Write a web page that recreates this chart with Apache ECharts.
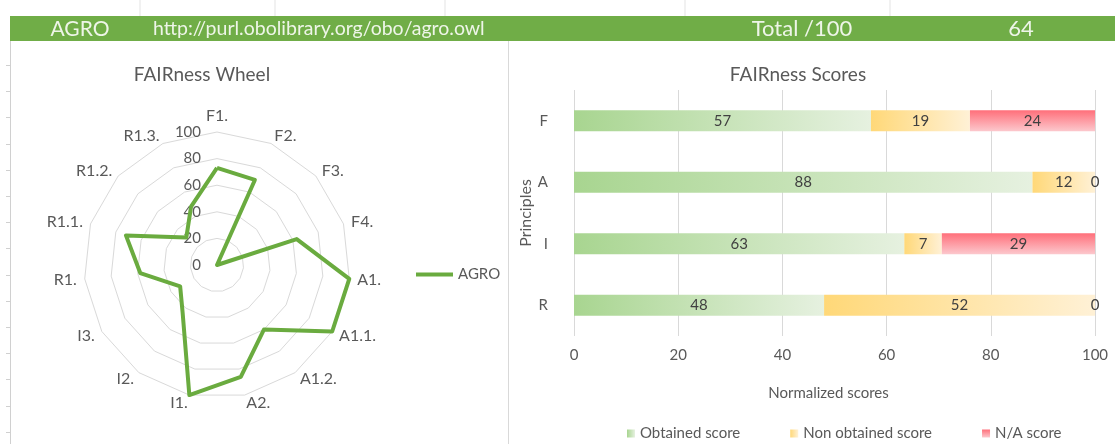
<!DOCTYPE html>
<html>
<head>
<meta charset="utf-8">
<script src="https://cdn.jsdelivr.net/npm/echarts@6/dist/echarts.min.js"></script>
<style>
  html, body { margin: 0; padding: 0; background: #fff; }
  #main { width: 1115px; height: 444px; }
</style>
</head>
<body>
<div id="main"></div>
<script>
// radar (FAIRness Wheel) – listed clockwise from the top, as in the sheet
var wheelNames = ['F1.', 'F2.', 'F3.', 'F4.', 'A1.', 'A1.1.', 'A1.2.', 'A2.', 'I1.', 'I2.', 'I3.', 'R1.', 'R1.1.', 'R1.2.', 'R1.3.'];
var wheelValues = [73, 70, 0, 63, 100, 100, 60, 86, 100, 44, 32, 58, 72, 31, 48];
var wheelTicks = [0, 20, 40, 60, 80, 100];

// bars (FAIRness Scores)
var principles = ['F', 'A', 'I', 'R'];
var obtained = [57, 88, 63.4, 48];
var nonObtained = [19, 12, 7.2, 52];
var naScore = [24, 0, 29.4, 0];

var headerName = 'AGRO';
var headerUrl = 'http://purl.obolibrary.org/obo/agro.owl';
var headerTotal = 64;

var FONT = 'Lato';
var GREY = '#595959';

// echarts radar runs counter-clockwise, so keep the first axis and flip the rest
function ccw(arr) {
  return [arr[0]].concat(arr.slice(1).reverse());
}

var chart = echarts.init(document.getElementById('main'), null, { renderer: 'canvas' });

function grad(x2, y2, c0, c1) {
  return new echarts.graphic.LinearGradient(0, 0, x2, y2, [
    { offset: 0, color: c0 },
    { offset: 1, color: c1 }
  ]);
}

var barLabel = {
  show: true,
  position: 'inside',
  color: '#404040',
  fontSize: 15,
  fontFamily: FONT,
  formatter: function (p) { return Math.round(p.value); }
};

// excel cell lines peeking out round the charts
var deco = [];
[140, 275, 445, 685, 890].forEach(function (x) {
  deco.push({ type: 'line', shape: { x1: x, y1: 0, x2: x, y2: 16 }, style: { stroke: '#e3e3e3', lineWidth: 1 } });
});
deco.push({ type: 'line', shape: { x1: 10.5, y1: 41, x2: 10.5, y2: 444 }, style: { stroke: '#d0d0d0', lineWidth: 1 } });
for (var y = 65; y < 444; y += 26.2) {
  deco.push({ type: 'line', shape: { x1: 6, y1: Math.round(y) + 0.5, x2: 10, y2: Math.round(y) + 0.5 }, style: { stroke: '#d0d0d0', lineWidth: 1 } });
}
deco.push({ type: 'line', shape: { x1: 508.5, y1: 41, x2: 508.5, y2: 444 }, style: { stroke: '#d9d9d9', lineWidth: 1 } });
// header band
deco.push({ type: 'rect', shape: { x: 10, y: 16, width: 1105, height: 25 }, style: { fill: '#70ad47' } });
deco.push({ type: 'text', x: 80, y: 29, style: { text: headerName, fill: '#eef5e8', font: '21px ' + FONT, textAlign: 'center', textVerticalAlign: 'middle' } });
deco.push({ type: 'text', x: 153, y: 29, style: { text: headerUrl, fill: '#eef5e8', font: '19.5px ' + FONT, textAlign: 'left', textVerticalAlign: 'middle' } });
deco.push({ type: 'text', x: 802, y: 29, style: { text: 'Total /100', fill: '#eef5e8', font: '22px ' + FONT, textAlign: 'center', textVerticalAlign: 'middle' } });
deco.push({ type: 'text', x: 1021, y: 29, style: { text: String(headerTotal), fill: '#eef5e8', font: '22px ' + FONT, textAlign: 'center', textVerticalAlign: 'middle' } });

var option = {
  backgroundColor: '#fff',
  animation: false,
  textStyle: { fontFamily: FONT },
  title: [
    { text: 'FAIRness Wheel', left: 197, top: 60, textAlign: 'center',
      textStyle: { color: GREY, fontSize: 19, fontWeight: 'normal', fontFamily: FONT } },
    { text: 'FAIRness Scores', left: 793, top: 60, textAlign: 'center',
      textStyle: { color: GREY, fontSize: 19, fontWeight: 'normal', fontFamily: FONT } }
  ],
  legend: [
    {
      data: [headerName],
      left: 411, top: 262,
      icon: 'rect',
      itemWidth: 37, itemHeight: 4,
      textStyle: { color: GREY, fontSize: 15, fontFamily: FONT }
    },
    {
      data: ['Obtained score', 'Non obtained score', 'N/A score'],
      left: 622, top: 421,
      icon: 'rect',
      itemWidth: 8, itemHeight: 8, itemGap: 50,
      textStyle: { color: GREY, fontSize: 15, fontFamily: FONT }
    }
  ],
  radar: {
    center: [217, 265],
    radius: 133,
    startAngle: 90,
    shape: 'polygon',
    splitNumber: 5,
    nameGap: 8,
    indicator: ccw(wheelNames).map(function (n) { return { name: n, min: 0, max: 100 }; }),
    axisName: { color: GREY, fontSize: 16, fontFamily: FONT },
    splitLine: { lineStyle: { color: '#d9d9d9', width: 1 } },
    splitArea: { show: false },
    axisLine: { show: false },
    axisTick: { show: false },
    axisLabel: { show: false }
  },
  grid: [
    { left: 574, right: 20, top: 90, bottom: 108 },
    // thin strip on the wheel's vertical spoke, just for the 0..100 labels
    { left: 209, top: 132, width: 8, height: 133 }
  ],
  xAxis: [
    {
      type: 'value', gridIndex: 0, min: 0, max: 100, interval: 20,
      axisLine: { show: false }, axisTick: { show: false },
      splitLine: { lineStyle: { color: '#d9d9d9' } },
      axisLabel: { color: GREY, fontSize: 15, margin: 12, fontFamily: FONT },
      name: 'Normalized scores', nameLocation: 'middle', nameGap: 50,
      nameTextStyle: { color: GREY, fontSize: 15, fontFamily: FONT, padding: [0, 12, 0, 0] }
    },
    { type: 'value', gridIndex: 1, show: false }
  ],
  yAxis: [
    {
      type: 'category', gridIndex: 0, data: principles, inverse: true,
      axisLine: { show: false }, axisTick: { show: false },
      axisLabel: { color: GREY, fontSize: 15, margin: 26, fontFamily: FONT },
      name: 'Principles', nameLocation: 'middle', nameGap: 40, nameRotate: 90,
      nameTextStyle: { color: GREY, fontSize: 16, fontFamily: FONT }
    },
    {
      type: 'value', gridIndex: 1, min: 0, max: 100, interval: 20,
      data: wheelTicks,
      axisLine: { show: false }, axisTick: { show: false }, splitLine: { show: false },
      axisLabel: { color: GREY, fontSize: 15, margin: 8, fontFamily: FONT }
    }
  ],
  series: [
    {
      name: headerName,
      type: 'radar',
      symbol: 'none',
      lineStyle: { color: '#6aab3f', width: 4 },
      itemStyle: { color: '#6aab3f' },
      data: [{ name: headerName, value: ccw(wheelValues) }]
    },
    {
      name: 'Obtained score', type: 'bar', stack: 'score', barWidth: 21,
      xAxisIndex: 0, yAxisIndex: 0,
      itemStyle: { color: grad(1, 0, '#a8d590', '#e6f1e0') },
      label: barLabel,
      data: obtained
    },
    {
      name: 'Non obtained score', type: 'bar', stack: 'score', barWidth: 21,
      xAxisIndex: 0, yAxisIndex: 0,
      itemStyle: { color: grad(1, 0, '#ffd878', '#fff1d6') },
      label: barLabel,
      data: nonObtained
    },
    {
      name: 'N/A score', type: 'bar', stack: 'score', barWidth: 21,
      xAxisIndex: 0, yAxisIndex: 0,
      itemStyle: { color: grad(0, 1, '#ff6f7a', '#fcc8cd') },
      label: barLabel,
      data: naScore
    }
  ],
  graphic: deco
};

chart.setOption(option);
</script>
</body>
</html>
